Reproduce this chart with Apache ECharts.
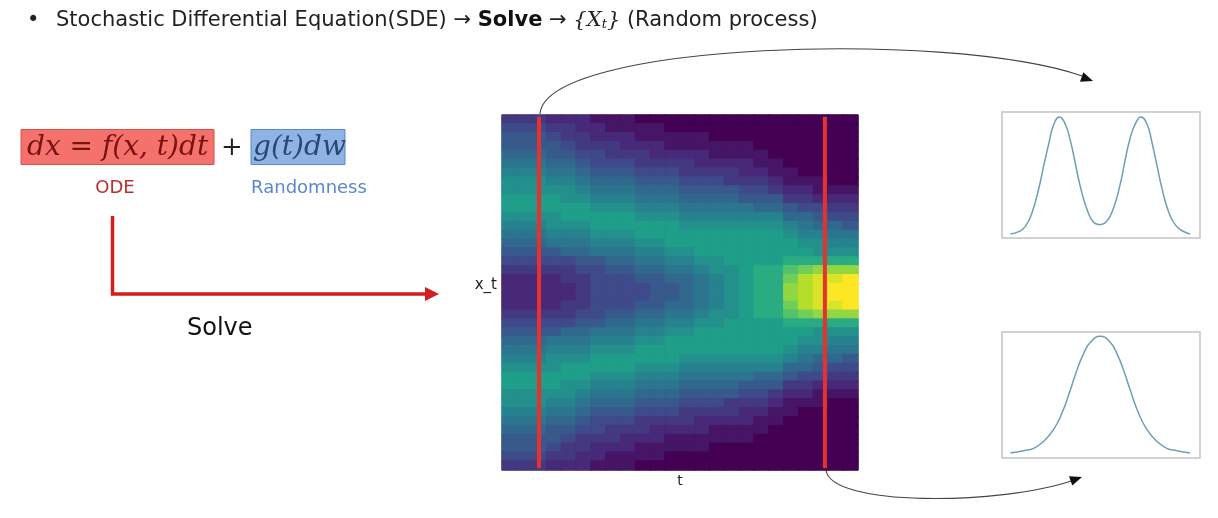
<!DOCTYPE html>
<html><head><meta charset="utf-8">
<script src="https://cdn.jsdelivr.net/npm/echarts@6/dist/echarts.min.js"></script>
<style>html,body{margin:0;padding:0;background:#fff}#main{width:1218px;height:518px}</style>
</head><body><div id="main"></div>
<script>
// Density of X_t: rows top->bottom (x_t), columns left->right (t).
// One character per cell, in half steps of the viridis scale: 0..9 then a=10 ... i=18.
const densityRows = [
  "333222111000000000000000",
  "444332211110000000000000",
  "555433222111110000000000",
  "555543332221111110000000",
  "666554433322221111000000",
  "777665444333322221100000",
  "888776555444333322110000",
  "999887666555444333211100",
  "999998777666555544322111",
  "aaaa99888777666655533222",
  "aaaaaa999888777776654433",
  "9999aaaaa999888888866544",
  "888999aaaaaa999999987665",
  "777888999aaaaaaaaaa98877",
  "66677788899aaaaaaaaa9988",
  "5555667778899aaaaaaaa999",
  "444445566778899aaaabbbbb",
  "3333344556677899abbdefff",
  "2222334445566789abbeghhi",
  "2222234444556789abbfghii",
  "2222234444556789abbfghii",
  "2222334445566789abbeghhi",
  "3333344556677899abbdefff",
  "444445566778899aaaabbbbb",
  "5555667778899aaaaaaaa999",
  "66677788899aaaaaaaaa9988",
  "777888999aaaaaaaaaa98877",
  "888999aaaaaa999999987665",
  "9999aaaaa999888888866544",
  "aaaaaa999888777776654433",
  "aaaa99888777666655533222",
  "999998777666555544322111",
  "999887666555444333211100",
  "888776555444333322110000",
  "777665444333322221100000",
  "666554433322221111000000",
  "555543332221111110000000",
  "555433222111110000000000",
  "444332211110000000000000",
  "333222111000000000000000"
];
const densityMax = 18;
// slice positions in t (fraction of the time axis)
const redLineT = [0.104, 0.907];
// density at the first slice (two modes)
const bimodalX = [-3,-2.72,-2.5,-2.28,-2.06,-1.89,-1.72,-1.56,-1.36,-1.17,-1,-0.83,-0.67,-0.44,-0.22,0,0.22,0.44,0.67,0.83,1,1.17,1.36,1.56,1.72,1.89,2.06,2.28,2.5,2.72,3];
const bimodalY = [0,0.02,0.065,0.18,0.38,0.58,0.77,0.93,1,0.94,0.8,0.6,0.41,0.21,0.1,0.08,0.11,0.22,0.43,0.63,0.82,0.94,1,0.94,0.79,0.59,0.39,0.19,0.08,0.03,0];
// density at the second slice (one mode)
const unimodalX = [-3,-2.56,-2.22,-1.89,-1.56,-1.28,-1,-0.78,-0.56,-0.33,0,0.33,0.56,0.78,1,1.28,1.56,1.89,2.22,2.56,3];
const unimodalY = [0,0.02,0.04,0.1,0.2,0.34,0.54,0.71,0.85,0.95,1,0.95,0.85,0.71,0.54,0.34,0.2,0.1,0.04,0.02,0];

const viridis = ['#440154','#482878','#3e4a89','#31688e','#26828e','#1f9e89','#35b779','#6ece58','#b5de2b','#fde725'];

const nCols = densityRows[0].length, nRows = densityRows.length;
const tCats = Array.from({length:nCols}, (_, i) => String(i));
const xCats = Array.from({length:nRows}, (_, i) => String(i));
const heatData = [];
densityRows.forEach((row, r) => {
  for (let c = 0; c < row.length; c++) {
    const v = parseInt(row[c], 36);
    const col = echarts.color.lerp(v / densityMax, viridis);
    heatData.push({value:[c, r, v], itemStyle:{color:col, borderColor:col, borderWidth:1}});
  }
});

function arrowHead(tip, from, len, half, color) {
  const dx = tip[0]-from[0], dy = tip[1]-from[1], L = Math.hypot(dx, dy);
  const ux = dx/L, uy = dy/L, bx = tip[0]-ux*len, by = tip[1]-uy*len;
  return {type:'polygon', shape:{points:[tip,[bx-uy*half, by+ux*half],[bx+uy*half, by-ux*half]]}, style:{fill:color}};
}
function txt(x, y, text, size, color, extra) {
  return {type:'text', x:x, y:y, style:Object.assign({text:text, fontSize:size, fontFamily:'DejaVu Sans', fill:color, textVerticalAlign:'middle', verticalAlign:'middle'}, extra||{})};
}

const chart = echarts.init(document.getElementById('main'), null, {renderer:'canvas'});
const hidden = {show:false};
const option = {
  animation:false,
  backgroundColor:'#ffffff',
  grid:[
    {left:502, top:115, width:356, height:355},
    {left:1002, top:112, width:198, height:126, show:true, borderColor:'#c4c4c4', borderWidth:1.5, backgroundColor:'transparent'},
    {left:1002, top:332, width:198, height:126, show:true, borderColor:'#c4c4c4', borderWidth:1.5, backgroundColor:'transparent'}
  ],
  xAxis:[
    {type:'category', gridIndex:0, data:tCats, axisLine:hidden, axisTick:hidden, axisLabel:hidden, splitLine:hidden,
     name:'t', nameLocation:'middle', nameGap:4, nameTextStyle:{fontFamily:'DejaVu Sans', fontSize:14, color:'#222'}},
    {type:'value', gridIndex:0, min:0, max:1, show:false},
    {type:'value', gridIndex:1, min:-3.28, max:3.33, show:false},
    {type:'value', gridIndex:2, min:-3.28, max:3.33, show:false}
  ],
  yAxis:[
    {type:'category', gridIndex:0, inverse:true, data:xCats, axisLine:hidden, axisTick:hidden, axisLabel:hidden, splitLine:hidden,
     name:'x_t', nameLocation:'middle', nameRotate:0, nameGap:5,
     nameTextStyle:{fontFamily:'DejaVu Sans', fontSize:15, color:'#222', verticalAlign:'bottom'}},
    {type:'value', gridIndex:0, min:0, max:1, show:false},
    {type:'value', gridIndex:1, min:-0.034, max:1.042, show:false},
    {type:'value', gridIndex:2, min:-0.043, max:1.037, show:false}
  ],
  series:[
    {type:'heatmap', xAxisIndex:0, yAxisIndex:0, data:heatData, emphasis:{disabled:true}, silent:true},
    ...redLineT.map(t => ({type:'line', xAxisIndex:1, yAxisIndex:1, data:[[t,0.005],[t,0.995]], symbol:'none',
      lineStyle:{color:'#e8312f', width:4}, silent:true})),
    {type:'line', xAxisIndex:2, yAxisIndex:2, data:bimodalX.map((x,i)=>[x,bimodalY[i]]), smooth:true, symbol:'none',
     lineStyle:{color:'#6d9fb4', width:1.5}},
    {type:'line', xAxisIndex:3, yAxisIndex:3, data:unimodalX.map((x,i)=>[x,unimodalY[i]]), smooth:true, symbol:'none',
     lineStyle:{color:'#6d9fb4', width:1.5}}
  ],
  graphic:[
    txt(27, 21, '•', 21, '#222'),
    {type:'text', x:56, y:21, style:{
      text:'{n|Stochastic Differential Equation(SDE) → }{b|Solve}{n| → }{m|{X}{s|t}} {n|(Random process)}',
      fontFamily:'DejaVu Serif', fontStyle:'italic', fontSize:21, fill:'#222', textVerticalAlign:'middle', verticalAlign:'middle',
      rich:{
        n:{fontFamily:'DejaVu Sans', fontStyle:'normal', fontSize:21, fill:'#222'},
        b:{fontFamily:'DejaVu Sans', fontStyle:'normal', fontWeight:'bold', fontSize:21, fill:'#111'},
        m:{fontFamily:'DejaVu Serif', fontStyle:'italic', fontSize:21, fill:'#222'},
        s:{fontFamily:'DejaVu Serif', fontStyle:'italic', fontSize:13, fill:'#222', verticalAlign:'bottom'}
      }}},
    {type:'rect', shape:{x:21, y:129.5, width:193, height:35}, style:{fill:'#f4716c', stroke:'#d9504b', lineWidth:1}},
    {type:'rect', shape:{x:251, y:129.5, width:94, height:35}, style:{fill:'#8fb3e3', stroke:'#5a87c8', lineWidth:1}},
    txt(27, 148, 'dx = f(x, t)dt', 28, '#7a1212', {fontFamily:'DejaVu Serif', fontStyle:'italic'}),
    txt(221, 148, '+', 26, '#222', {fontFamily:'DejaVu Serif'}),
    txt(253, 148, 'g(t)dw', 28, '#2c4677', {fontFamily:'DejaVu Serif', fontStyle:'italic'}),
    txt(115, 188, 'ODE', 18, '#b83030', {textAlign:'center', align:'center'}),
    txt(309, 188, 'Randomness', 18, '#5b88c8', {textAlign:'center', align:'center'}),
    {type:'polyline', shape:{points:[[112.5,216],[112.5,294],[426,294]]}, style:{stroke:'#d21e1e', lineWidth:3.5, fill:null}},
    arrowHead([439,294],[426,294],14,7,'#d21e1e'),
    txt(187, 329, 'Solve', 24, '#111'),
    {type:'bezierCurve', shape:{x1:540, y1:114, cpx1:545, cpy1:42, cpx2:950, cpy2:30, x2:1082, y2:76}, style:{stroke:'#444', lineWidth:1.1, fill:null}},
    arrowHead([1093,81],[950,30],12,5,'#111'),
    {type:'bezierCurve', shape:{x1:826, y1:470, cpx1:830, cpy1:507, cpx2:1000, cpy2:505, x2:1071, y2:481}, style:{stroke:'#444', lineWidth:1.1, fill:null}},
    arrowHead([1082,477],[1000,505],12,5,'#111')
  ]
};
chart.setOption(option);
</script>
</body></html>
